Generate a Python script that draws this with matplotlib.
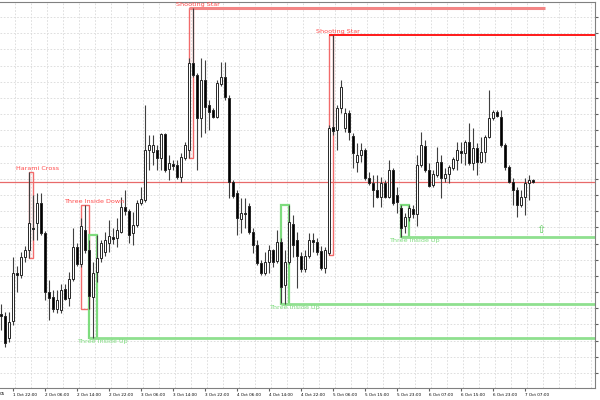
import numpy as np
import matplotlib.pyplot as plt
from matplotlib.patches import Rectangle

# hourly candles (price in points)
opens = [86, 84, 62, 79, 127, 125, 143, 150, 172, 177,
         197, 167, 108, 103, 91, 90, 111, 102, 121, 153,
         136, 170, 150, 103, 128, 142, 148, 157, 163, 162,
         168, 193, 189, 167, 175, 197, 200, 250, 248, 250,
         242, 266, 231, 236, 235, 223, 242, 250, 337, 325,
         282, 320, 295, 290, 283, 316, 323, 302, 218, 207,
         181, 187, 194, 168, 155, 137, 127, 138, 150, 139,
         158, 115, 138, 176, 160, 144, 131, 144, 160, 158,
         149, 132, 147, 273, 270, 292, 272, 287, 264, 238,
         245, 250, 222, 217, 210, 203, 217, 203, 230, 205,
         192, 174, 183, 191, 186, 235, 254, 230, 215, 225,
         238, 222, 226, 232, 240, 249, 247, 258, 237, 252,
         238, 248, 263, 282, 288, 283, 255, 233, 218, 210,
         195, 203, 217, 220]
highs = [96, 88, 88, 143, 134, 148, 154, 228, 205, 207,
         207, 169, 120, 110, 110, 116, 116, 128, 172, 157,
         182, 195, 160, 138, 165, 160, 168, 180, 172, 182,
         203, 210, 191, 188, 200, 213, 295, 265, 265, 255,
         267, 267, 245, 240, 240, 247, 258, 342, 392, 327,
         342, 340, 300, 292, 320, 338, 338, 305, 220, 210,
         202, 202, 197, 172, 160, 140, 148, 155, 151, 170,
         162, 150, 195, 185, 168, 148, 150, 167, 167, 162,
         154, 153, 275, 365, 295, 320, 292, 290, 267, 257,
         257, 252, 228, 225, 225, 223, 220, 240, 232, 213,
         195, 187, 195, 195, 245, 268, 260, 237, 230, 253,
         245, 232, 235, 243, 258, 258, 260, 277, 272, 257,
         263, 265, 310, 290, 290, 290, 257, 235, 222, 213,
         210, 222, 225, 221]
lows = [70, 53, 58, 75, 108, 122, 138, 142, 160, 160,
        165, 100, 80, 88, 87, 87, 100, 94, 119, 134,
        133, 147, 91, 62, 118, 138, 144, 148, 156, 153,
        167, 185, 157, 155, 173, 195, 198, 230, 235, 230,
        230, 228, 220, 230, 221, 218, 240, 242, 323, 230,
        263, 267, 270, 282, 282, 314, 300, 202, 202, 165,
        167, 172, 166, 147, 135, 125, 125, 127, 133, 137,
        97, 96, 136, 143, 112, 128, 128, 142, 148, 145,
        130, 127, 145, 265, 250, 287, 268, 260, 232, 228,
        238, 220, 215, 193, 202, 193, 202, 202, 195, 187,
        163, 167, 179, 182, 174, 233, 228, 213, 213, 223,
        202, 218, 217, 230, 230, 237, 235, 235, 230, 225,
        237, 238, 262, 280, 283, 253, 230, 217, 195, 183,
        193, 185, 200, 217]
closes = [84, 57, 78, 127, 125, 143, 150, 177, 171, 197,
          167, 108, 102, 91, 100, 110, 101, 121, 153, 136,
          174, 150, 104, 127, 142, 157, 160, 164, 161, 170,
          193, 189, 165, 175, 197, 201, 250, 255, 255, 242,
          266, 230, 237, 234, 223, 243, 255, 337, 325, 282,
          320, 293, 288, 283, 317, 323, 303, 218, 204, 182,
          187, 186, 168, 155, 137, 127, 138, 150, 138, 158,
          113, 138, 178, 155, 144, 131, 144, 160, 158, 148,
          132, 150, 272, 269, 292, 313, 287, 268, 247, 245,
          250, 222, 217, 210, 203, 217, 203, 230, 197, 198,
          172, 183, 192, 186, 235, 255, 230, 214, 226, 238,
          222, 226, 233, 241, 250, 247, 258, 237, 252, 238,
          248, 263, 282, 288, 284, 255, 233, 218, 210, 195,
          203, 217, 220, 218]

# detected patterns: name, first bar, last bar, direction
patterns = [("Harami Cross", 7, 8, "bear"),
            ("Three Inside Down", 20, 22, "bear"),
            ("Three Inside Up", 22, 24, "bull"),
            ("Shooting Star", 47, 48, "bear"),
            ("Three Inside Up", 70, 72, "bull"),
            ("Shooting Star", 82, 83, "bear"),
            ("Three Inside Up", 100, 102, "bull")]

time_labels = ["1 Oct 22:00", "2 Oct 06:00", "2 Oct 14:00", "2 Oct 22:00",
               "3 Oct 06:00", "3 Oct 14:00", "3 Oct 22:00", "4 Oct 06:00",
               "4 Oct 14:00", "4 Oct 22:00", "5 Oct 06:00", "5 Oct 15:00",
               "5 Oct 23:00", "6 Oct 07:00", "6 Oct 15:00", "6 Oct 23:00",
               "7 Oct 07:00"]

RED = '#ff4b4b'
RED_RECT = '#f26b6b'
GREEN = '#7edc7e'

o, h, l, c = map(np.array, (opens, highs, lows, closes))
x = np.arange(len(o))
xmax = 148.5

fig = plt.figure(figsize=(6, 4), dpi=100)
ax = fig.add_axes([0, 0.03, 595 / 600, 0.965])
ax.set_xlim(-0.25, xmax)
ax.set_ylim(12, 398)

# grid
for gx in np.arange(3.5, xmax, 4):
    ax.axvline(gx, color='#d9d9d9', lw=0.6, ls=(0, (2, 2)), zorder=0)
for gy in np.arange(383, 12, -16.18):
    ax.axhline(gy, color='#d9d9d9', lw=0.6, ls=(0, (2, 2)), zorder=0)

# current price line
ax.axhline(c[-1], color='#e86a6a', lw=0.9, zorder=1)

# pattern rectangles, level lines, labels
for name, a, b, kind in patterns:
    top = h[a:b + 1].max()
    bot = l[a:b + 1].min()
    col = RED_RECT if kind == "bear" else GREEN
    lw = 1.0 if kind == "bear" else 1.6
    ax.add_patch(Rectangle((a, bot), b - a, top - bot, fill=False,
                           edgecolor=col, lw=lw, zorder=2))
    if kind == "bear":
        ax.text(b + 1.25, top + 1, name, color=RED, fontsize=4.6,
                ha='center', va='bottom', zorder=6, clip_on=False)
    else:
        ax.text(b + 1.25, bot - 1, name, color=GREEN, fontsize=4.6,
                ha='center', va='top', zorder=6)
        ax.hlines(bot, a, xmax, color='#8fe08f', lw=2, zorder=2)

# shooting star resistance lines
ax.hlines(h[48], 47, 136, color='#f38585', lw=2.2, zorder=2)
ax.hlines(h[83], 82, xmax, color='#ff1a1a', lw=1.4, zorder=2)

# candles
up = c >= o
ax.vlines(x, l, h, color='#404040', lw=0.8, zorder=3)
body = np.maximum(np.abs(c - o), 0.9)
ax.bar(x, body, bottom=np.minimum(o, c), width=0.72,
       color=np.where(up, 'white', 'black'), edgecolor='#262626',
       linewidth=0.7, zorder=4)

# buy signal arrow
ax.text(135, 170, '\u21e7', color='#5ccc5c', fontsize=8,
        ha='center', va='center', zorder=6)

# axes styling
for side in ['left']:
    ax.spines[side].set_visible(False)
for side in ['top', 'right', 'bottom']:
    ax.spines[side].set_color('#808080')
    ax.spines[side].set_linewidth(0.8)
ax.yaxis.tick_right()
ax.set_yticks(np.arange(383, 12, -16.18))
ax.tick_params(axis='y', length=2.5, color='#606060', labelright=False)
ax.set_xticks(np.arange(3, len(time_labels) * 8, 8))
ax.set_xticklabels(time_labels, fontsize=3, ha='left')
ax.tick_params(axis='x', length=2, color='#606060', pad=1.5)
fig.text(0.0, 0.012, '05', fontsize=3, ha='left')
ax.set_facecolor('white')

plt.savefig('out.png', dpi=100)
